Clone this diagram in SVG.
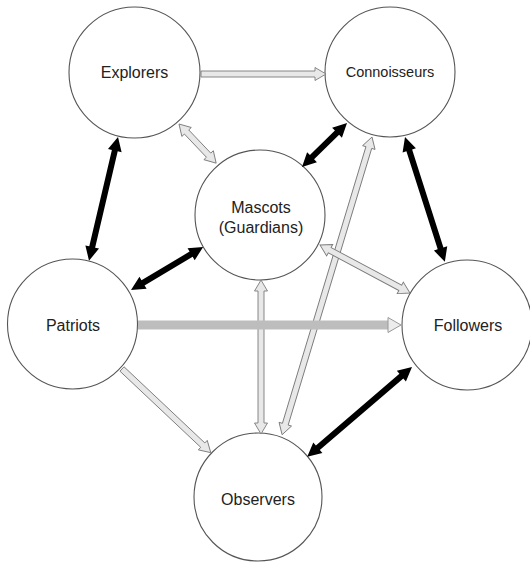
<svg xmlns="http://www.w3.org/2000/svg" width="530" height="563" viewBox="0 0 530 563">
<style>
  .node circle { fill: #fff; stroke: #555; stroke-width: 1.1; }
  .node text { font-family: "Liberation Sans", Arial, sans-serif; font-size: 16px; fill: #222; text-anchor: middle; }
  .blk { fill: #000; }
  .hol { fill: #e8e8e8; stroke: #7a7a7a; stroke-width: 0.9; }
  .bar { fill: #bdbdbd; }
  .barhead { fill: #ececec; stroke: #999; stroke-width: 1; }
</style>
<rect width="530" height="563" fill="#fff"/>
<g id="nodes">
  <g id="explorers" class="node"><circle cx="134.5" cy="72.5" r="65.5"/><text x="134.5" y="78">Explorers</text></g>
  <g id="connoisseurs" class="node"><circle cx="390" cy="72" r="65"/><text x="390" y="77" style="font-size:14.5px">Connoisseurs</text></g>
  <g id="mascots" class="node"><circle cx="260" cy="215" r="65"/><text x="261" y="213">Mascots</text><text x="261" y="233">(Guardians)</text></g>
  <g id="patriots" class="node"><circle cx="72.5" cy="324" r="65"/><text x="73" y="331">Patriots</text></g>
  <g id="followers" class="node"><circle cx="467" cy="325" r="65"/><text x="468" y="331">Followers</text></g>
  <g id="observers" class="node"><circle cx="258" cy="497" r="64"/><text x="258" y="505">Observers</text></g>
</g>
<g id="connectors">
  <!-- Explorers -> Connoisseurs -->
  <g transform="translate(201 74)"><polygon class="hol" points="0,-3 114,-3 114,-6.5 125,0 114,6.5 114,3 0,3"/></g>
  <!-- Explorers <-> Mascots -->
  <g transform="translate(179 124) rotate(46.5)"><polygon class="hol" points="0,0 11,-6.5 11,-3 43,-3 43,-6.5 54,0 43,6.5 43,3 11,3 11,6.5"/></g>
  <!-- Mascots <-> Connoisseurs -->
  <g transform="translate(302 167) rotate(-44.4)"><polygon class="blk" points="0,0 14,-7 14,-3 49,-3 49,-7 63,0 49,7 49,3 14,3 14,7"/></g>
  <!-- Explorers <-> Patriots -->
  <g transform="translate(118 137) rotate(103.2)"><polygon class="blk" points="0,0 14,-7 14,-3 113,-3 113,-7 127,0 113,7 113,3 14,3 14,7"/></g>
  <!-- Connoisseurs <-> Followers -->
  <g transform="translate(405 137) rotate(72.3)"><polygon class="blk" points="0,0 14,-7 14,-3 117,-3 117,-7 131,0 117,7 117,3 14,3 14,7"/></g>
  <!-- Patriots <-> Mascots -->
  <g transform="translate(131 290) rotate(-30.8)"><polygon class="blk" points="0,0 14,-7 14,-3 70,-3 70,-7 84,0 70,7 70,3 14,3 14,7"/></g>
  <!-- Connoisseurs <-> Observers -->
  <g transform="translate(372 137) rotate(106.8)"><polygon class="hol" points="0,0 11,-6.5 11,-3 300,-3 300,-6.5 311,0 300,6.5 300,3 11,3 11,6.5"/></g>
  <!-- Mascots <-> Observers -->
  <g transform="translate(261 280) rotate(90)"><polygon class="hol" points="0,0 11,-6.5 11,-3 143,-3 143,-6.5 154,0 143,6.5 143,3 11,3 11,6.5"/></g>
  <!-- Mascots <-> Followers -->
  <g transform="translate(320 245) rotate(28.1)"><polygon class="hol" points="0,0 11,-6.5 11,-3 91,-3 91,-6.5 102,0 91,6.5 91,3 11,3 11,6.5"/></g>
  <!-- Patriots -> Followers -->
  <g><rect class="bar" x="138" y="320.5" width="250" height="9"/><polygon class="barhead" points="388,317.5 401,325 388,332.5"/></g>
  <!-- Patriots -> Observers -->
  <g transform="translate(122 369) rotate(43.3)"><polygon class="hol" points="0,-3 111,-3 111,-6.5 122,0 111,6.5 111,3 0,3"/></g>
  <!-- Followers <-> Observers -->
  <g transform="translate(412 367) rotate(139.4)"><polygon class="blk" points="0,0 14,-7 14,-3 124,-3 124,-7 138,0 124,7 124,3 14,3 14,7"/></g>
</g>
</svg>
